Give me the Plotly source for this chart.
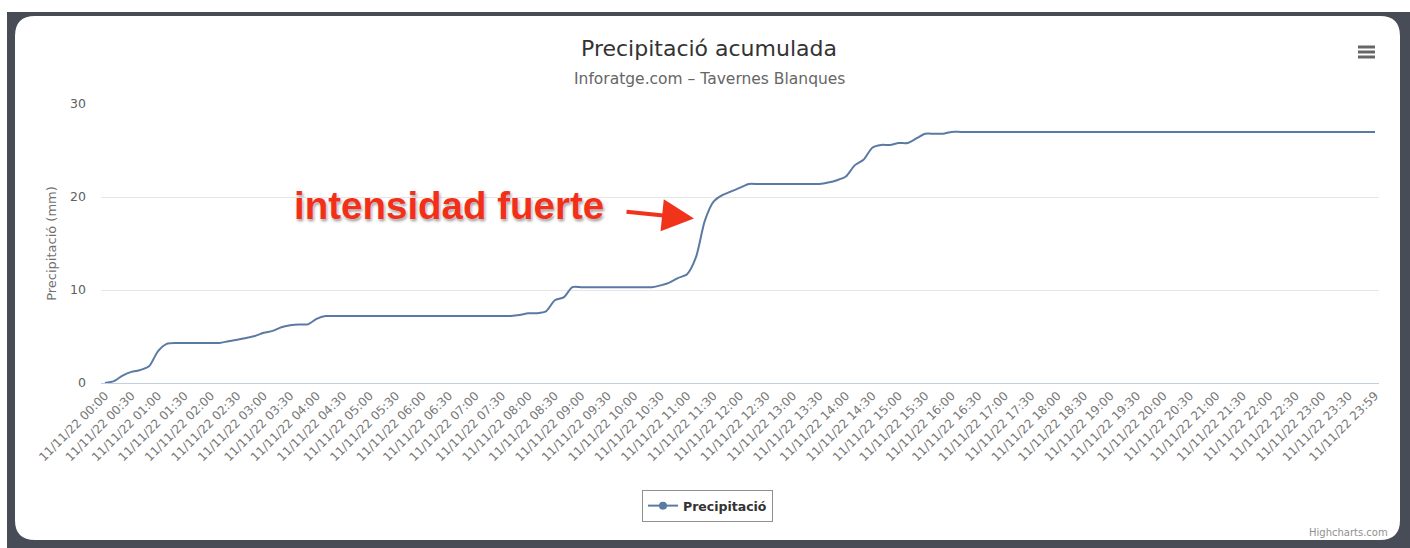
import plotly.graph_objects as go

# ---------------- data ----------------
DATE = "11/11/22"
HOURS = [f"{h:02d}" for h in range(24)]
MINUTES = ["00", "10", "20", "30", "40", "50"]
categories = [f"{DATE} {h}:{m}" for h in HOURS for m in MINUTES] + [f"{DATE} 23:59"]

precip = [
    0.0, 0.2, 0.8, 1.2, 1.4, 1.8, 3.4, 4.2, 4.3, 4.3, 4.3, 4.3,
    4.3, 4.3, 4.5, 4.65, 4.85, 5.05, 5.4, 5.6, 6.0, 6.2, 6.3, 6.3,
    6.9, 7.2, 7.2, 7.2, 7.2, 7.2, 7.2, 7.2, 7.2, 7.2, 7.2, 7.2,
    7.2, 7.2, 7.2, 7.2, 7.2, 7.2, 7.2, 7.2, 7.2, 7.2, 7.2, 7.3,
    7.5, 7.5, 7.7, 8.9, 9.2, 10.3, 10.3, 10.3, 10.3, 10.3, 10.3, 10.3,
    10.3, 10.3, 10.3, 10.5, 10.8, 11.3, 11.7, 13.5, 17.4, 19.5, 20.2, 20.6,
    21.0, 21.4, 21.4, 21.4, 21.4, 21.4, 21.4, 21.4, 21.4, 21.4, 21.55, 21.8,
    22.2, 23.4, 24.0, 25.3, 25.6, 25.6, 25.8, 25.8, 26.3, 26.8, 26.8, 26.8,
    27.0, 27.0, 27.0, 27.0, 27.0, 27.0, 27.0, 27.0, 27.0, 27.0, 27.0, 27.0,
    27.0, 27.0, 27.0, 27.0, 27.0, 27.0, 27.0, 27.0, 27.0, 27.0, 27.0, 27.0,
    27.0, 27.0, 27.0, 27.0, 27.0, 27.0, 27.0, 27.0, 27.0, 27.0, 27.0, 27.0,
    27.0, 27.0, 27.0, 27.0, 27.0, 27.0, 27.0, 27.0, 27.0, 27.0, 27.0, 27.0,
    27.0,
]
tick_labels = categories[::3]
y_ticks = [0, 10, 20, 30]
series_name = "Precipitació"
title_text = "Precipitació acumulada"
subtitle_text = "Inforatge.com – Tavernes Blanques"
y_title = "Precipitació (mm)"
annotation_text = "intensidad fuerte"

# ---------------- layout geometry (pixels) ----------------
W, H = 1410, 548
PL, PR, PT, PB = 101, 1379, 104, 383  # plot area


def px(x):
    return (x - PL) / (PR - PL)


def py(y):
    return (PB - y) / (PB - PT)


def rounded_path(x0, y0, x1, y1, r):
    pts = [
        f"M {px(x0 + r)} {py(y0)}",
        f"L {px(x1 - r)} {py(y0)}",
        f"Q {px(x1)} {py(y0)} {px(x1)} {py(y0 + r)}",
        f"L {px(x1)} {py(y1 - r)}",
        f"Q {px(x1)} {py(y1)} {px(x1 - r)} {py(y1)}",
        f"L {px(x0 + r)} {py(y1)}",
        f"Q {px(x0)} {py(y1)} {px(x0)} {py(y1 - r)}",
        f"L {px(x0)} {py(y0 + r)}",
        f"Q {px(x0)} {py(y0)} {px(x0 + r)} {py(y0)}",
        "Z",
    ]
    return " ".join(pts)


LINE_COLOR = "#5a7aa3"
FONT = "DejaVu Sans, Verdana, sans-serif"

fig = go.Figure()
fig.add_trace(go.Scatter(
    x=categories, y=precip, mode="lines", name=series_name,
    line=dict(color=LINE_COLOR, width=2, shape="spline", smoothing=0.7),
    showlegend=False, hoverinfo="x+y",
))
# legend entry (line + marker symbol like Highcharts)
fig.add_trace(go.Scatter(
    x=[None], y=[None], mode="lines+markers", name=series_name,
    line=dict(color=LINE_COLOR, width=2),
    marker=dict(color=LINE_COLOR, size=8, symbol="circle"),
    showlegend=True,
))

shapes = [
    # dark frame
    dict(type="rect", xref="paper", yref="paper",
         x0=px(7), x1=px(W + 2), y0=py(12), y1=py(H + 2),
         fillcolor="#484c56", line=dict(width=0), layer="below"),
    # white rounded card
    dict(type="path", xref="paper", yref="paper",
         path=rounded_path(15, 16, 1400, 540, 20),
         fillcolor="#ffffff", line=dict(width=0), layer="below"),
]
# hamburger menu icon
for yy in (47, 52, 57):
    shapes.append(dict(type="line", xref="paper", yref="paper",
                       x0=px(1358), x1=px(1375), y0=py(yy), y1=py(yy),
                       line=dict(color="#666666", width=3), layer="above"))

annotations = [
    dict(text=subtitle_text, xref="paper", yref="paper",
         x=px(709), y=py(79), xanchor="center", yanchor="middle",
         showarrow=False, font=dict(family=FONT, size=15.5, color="#666666")),
    dict(text=annotation_text, xref="paper", yref="paper",
         x=px(449), y=py(205), xanchor="center", yanchor="middle",
         showarrow=False,
         font=dict(family="Liberation Sans, Arial, sans-serif", size=38.5,
                   color="#f2301a", weight="bold",
                   shadow="0px 0px 2px #ffffff, 1px 2px 3px rgba(0,0,0,0.45)")),
    dict(text="", xref="paper", yref="paper",
         x=px(694), y=py(218.5), axref="pixel", ayref="pixel",
         ax=-69, ay=-7, showarrow=True, arrowhead=2, arrowsize=1.6,
         arrowwidth=4, arrowcolor="#f2331c", standoff=0, startstandoff=0),
    dict(text="Highcharts.com", xref="paper", yref="paper",
         x=px(1390), y=py(532), xanchor="right", yanchor="middle",
         showarrow=False, font=dict(family=FONT, size=10, color="#909090")),
]

fig.update_layout(
    width=W, height=H,
    margin=dict(l=PL, r=W - PR, t=PT, b=H - PB, autoexpand=False),
    paper_bgcolor="#ffffff",
    plot_bgcolor="rgba(0,0,0,0)",
    title=dict(text=title_text, x=709 / W, xanchor="center", xref="container",
               y=1 - 48 / H, yanchor="middle", yref="container",
               font=dict(family=FONT, size=22, color="#333333")),
    shapes=shapes,
    annotations=annotations,
    showlegend=True,
    legend=dict(orientation="h", x=px(707.5), xanchor="center",
                y=py(490), yanchor="top",
                bgcolor="#ffffff", bordercolor="#909090", borderwidth=1,
                font=dict(family=FONT, size=12.5, color="#333333", weight="bold"),
                itemwidth=30),
    xaxis=dict(
        type="category", categoryorder="array", categoryarray=categories,
        range=[-0.45, len(categories) - 1 + 0.45],
        tickmode="array", tickvals=tick_labels, ticktext=tick_labels,
        tickangle=-45, showgrid=False, zeroline=False,
        showline=True, linecolor="#c0d0e0", linewidth=1,
        ticks="", tickfont=dict(family=FONT, size=12, color="#777777"),
        automargin=False, fixedrange=True,
    ),
    yaxis=dict(
        range=[0, 30], tickmode="array", tickvals=y_ticks,
        showgrid=True, gridcolor="#e6e6e6", gridwidth=1, zeroline=False,
        showline=False, ticks="", ticklabelstandoff=14,
        tickfont=dict(family=FONT, size=12.5, color="#606060"),
        title=dict(text=y_title, standoff=10,
                   font=dict(family=FONT, size=13, color="#707070")),
        automargin=False, fixedrange=True,
    ),
)

fig.write_html(
    "out.html",
    config={"displayModeBar": False},
    post_script="document.body.style.margin='0';document.body.style.overflow='hidden';",
)
